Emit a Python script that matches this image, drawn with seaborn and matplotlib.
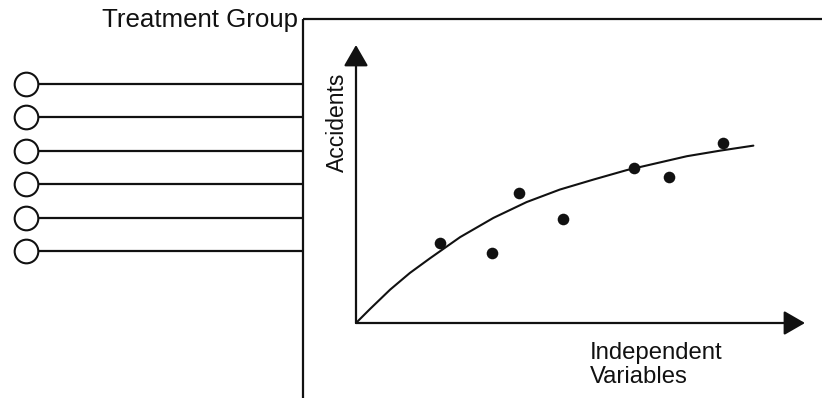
import matplotlib
matplotlib.use("Agg")
import matplotlib.pyplot as plt
import seaborn as sns

# treatment group rows (one circle per unit)
group_rows = [1, 2, 3, 4, 5, 6]

# observed points (arbitrary units, axes run 0..10)
point_x = [1.87, 3.04, 3.63, 4.62, 6.20, 6.98, 8.17]
point_y = [2.87, 2.53, 4.67, 3.75, 5.59, 5.26, 6.49]

# fitted curve
curve_x = [0.0, 0.31, 0.76, 1.20, 1.65, 2.32, 3.06, 3.80, 4.54, 5.29, 6.03, 7.37, 8.11, 8.85]
curve_y = [0.0, 0.50, 1.20, 1.80, 2.33, 3.09, 3.78, 4.35, 4.80, 5.16, 5.50, 6.00, 6.20, 6.38]

x_label = "Independent\nVariables"
y_label = "Accidents"
group_label = "Treatment Group"

INK = "#111111"
W, H = 825, 398

sns.set_theme(style="white")
plt.rcParams["font.family"] = ["Liberation Sans", "DejaVu Sans"]

fig = plt.figure(figsize=(W / 100, H / 100), dpi=100)

# background axes in pixel units for the frame and labels
bg = fig.add_axes([0, 0, 1, 1])
bg.set_xlim(0, W)
bg.set_ylim(H, 0)
bg.axis("off")
bg.plot([303, 822], [18.5, 18.5], color=INK, lw=1.6, solid_capstyle="butt")
bg.plot([303, 303], [18.5, H], color=INK, lw=1.6, solid_capstyle="butt")
bg.text(298, 20, group_label, ha="right", va="center", fontsize=18.6, color=INK)
bg.text(337, 122, y_label, ha="center", va="center", rotation=90, fontsize=16.5, color=INK)
bg.text(590, 365, x_label, ha="left", va="center", fontsize=17.2, color=INK, linespacing=1.1)

# treatment group: circles with lines into the frame
row_h = 33.4
top = 84 - row_h / 2
ax_g = fig.add_axes([0, 1 - (top + 6 * row_h) / H, 303 / W, 6 * row_h / H])
ax_g.set_xlim(0, 303)
ax_g.set_ylim(6.5, 0.5)
ax_g.axis("off")
ax_g.hlines(group_rows, 37, 303, color=INK, lw=1.6)
sns.scatterplot(x=[25.7] * len(group_rows), y=group_rows, ax=ax_g, s=290,
                marker="o", facecolor="white", edgecolor=INK, linewidth=1.5, zorder=3)

# main plot
ox, oy, tx, ty = 356, 323, 805, 45
ax = fig.add_axes([ox / W, 1 - oy / H, (tx - ox) / W, (oy - ty) / H])
ax.set_facecolor("none")
ax.set_xlim(0, 10)
ax.set_ylim(0, 10)
for s in ax.spines.values():
    s.set_visible(False)
ax.set_xticks([])
ax.set_yticks([])

arrow = dict(arrowstyle="-|>,head_length=13,head_width=7.5", mutation_scale=1,
             color=INK, lw=1.6, shrinkA=0, shrinkB=0)
ax.annotate("", xy=(10, 0), xytext=(0, 0), arrowprops=arrow, annotation_clip=False)
ax.annotate("", xy=(0, 10), xytext=(0, 0), arrowprops=arrow, annotation_clip=False)

sns.lineplot(x=curve_x, y=curve_y, ax=ax, color=INK, lw=1.5, sort=False,
             solid_joinstyle="round")
sns.scatterplot(x=point_x, y=point_y, ax=ax, color=INK, s=70, linewidth=0, zorder=3)

fig.savefig("out.png", dpi=100, facecolor="white")
